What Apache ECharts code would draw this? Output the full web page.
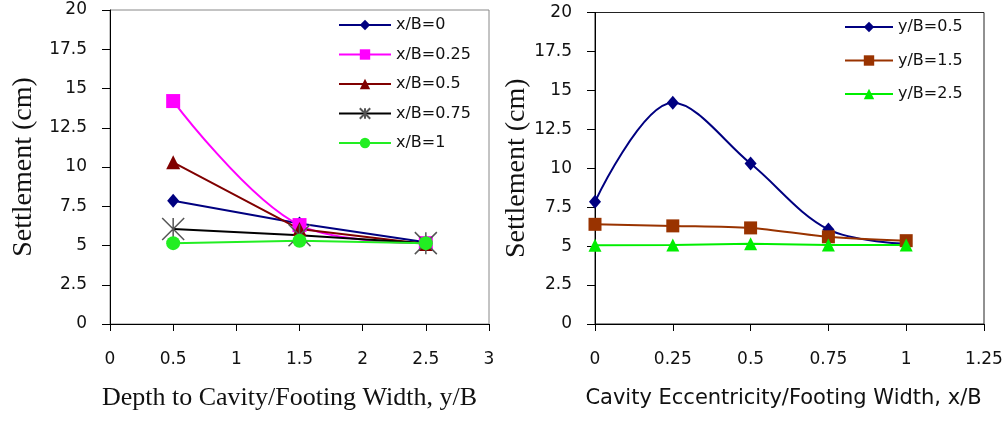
<!DOCTYPE html>
<html>
<head>
<meta charset="utf-8">
<script src="https://cdn.jsdelivr.net/npm/echarts@6/dist/echarts.min.js"></script>
<style>
html,body{margin:0;padding:0;background:#fff;}
#c{width:1006px;height:426px;}
</style>
</head>
<body>
<div id="c"></div>
<script>
// ---- Left chart data: settlement vs depth ratio y/B ----
const leftX = [0.5, 1.5, 2.5];
const leftNames = ['x/B=0', 'x/B=0.25', 'x/B=0.5', 'x/B=0.75', 'x/B=1'];
const leftXB0   = [7.85, 6.4, 5.2];
const leftXB025 = [14.2, 6.3, 5.15];
const leftXB05  = [10.3, 6.05, 5.1];
const leftXB075 = [6.05, 5.65, 5.15];
const leftXB1   = [5.15, 5.3, 5.15];

// ---- Right chart data: settlement vs eccentricity ratio x/B ----
const rightX = [0, 0.25, 0.5, 0.75, 1];
const rightNames = ['y/B=0.5', 'y/B=1.5', 'y/B=2.5'];
const rightYB05 = [7.85, 14.2, 10.3, 6.07, 5.15];
const rightYB15 = [6.4, 6.3, 6.17, 5.6, 5.35];
const rightYB25 = [5.05, 5.08, 5.15, 5.08, 5.08];

const pairs = (xs, ys) => xs.map((x, i) => [x, ys[i]]);

const tickFont = {fontFamily: 'DejaVu Sans', fontSize: 17, color: '#111'};
const asterisk = 'path://M0,0L20,20M20,0L0,20M10,0L10,20';

function yAxis(gridIndex, gap) {
  return {
    gridIndex, type: 'value', min: 0, max: 20, interval: 2.5,
    name: 'Settlement (cm)', nameLocation: 'middle', nameGap: gap,
    nameTextStyle: {fontFamily: 'Liberation Serif', fontSize: 28, color: '#111'},
    axisLine: {show: true, lineStyle: {color: '#000', width: 1}},
    axisTick: {show: true, length: 8, lineStyle: {color: '#000'}},
    axisLabel: Object.assign({margin: 23}, tickFont),
    splitLine: {show: false}
  };
}

function mk(name, xi, yi, xs, ys, color, symbol, size, extra) {
  return Object.assign({
    name, type: 'line', xAxisIndex: xi, yAxisIndex: yi,
    data: pairs(xs, ys), symbol, symbolSize: size,
    lineStyle: {color, width: 2},
    itemStyle: {color},
    emphasis: {disabled: true},
    z: 2
  }, extra || {});
}

const option = {
  animation: false,
  backgroundColor: '#fff',
  grid: [
    {left: 110, top: 10, right: 517, bottom: 102, show: true, borderColor: '#888', borderWidth: 1},
    {left: 595, top: 12.5, right: 22, bottom: 102, show: true, borderColor: '#222', borderWidth: 1}
  ],
  xAxis: [
    {
      gridIndex: 0, type: 'value', min: 0, max: 3, interval: 0.5,
      name: 'Depth to Cavity/Footing Width, y/B', nameLocation: 'middle', nameGap: 61,
      nameTextStyle: {fontFamily: 'Liberation Serif', fontSize: 26, color: '#111', padding: [0, 20, 0, 0]},
      axisLine: {show: true, lineStyle: {color: '#000', width: 1}},
      axisTick: {show: true, length: 7, lineStyle: {color: '#000'}},
      axisLabel: Object.assign({margin: 27}, tickFont),
      splitLine: {show: false}
    },
    {
      gridIndex: 1, type: 'value', min: 0, max: 1.25, interval: 0.25,
      name: 'Cavity Eccentricity/Footing Width, x/B', nameLocation: 'middle', nameGap: 64,
      nameTextStyle: {fontFamily: 'DejaVu Sans', fontSize: 21, color: '#111', padding: [0, 12, 0, 0]},
      axisLine: {show: true, lineStyle: {color: '#000', width: 1}},
      axisTick: {show: true, length: 7, lineStyle: {color: '#000'}},
      axisLabel: Object.assign({margin: 27}, tickFont),
      splitLine: {show: false}
    }
  ],
  yAxis: [yAxis(0, 72), yAxis(1, 64)],
  legend: [
    {
      data: leftNames, orient: 'vertical', left: 338, top: 17, padding: 0,
      itemWidth: 52, itemHeight: 13, itemGap: 13.5,
      textStyle: {fontFamily: 'DejaVu Sans', fontSize: 16, color: '#111', lineHeight: 13},
      selectedMode: false
    },
    {
      data: rightNames, orient: 'vertical', left: 844, top: 19, padding: 0,
      itemWidth: 48, itemHeight: 13, itemGap: 17.5,
      textStyle: {fontFamily: 'DejaVu Sans', fontSize: 16, color: '#111', lineHeight: 13},
      selectedMode: false
    }
  ],
  series: [
    mk('x/B=0', 0, 0, leftX, leftXB0, '#000080', 'diamond', [12, 14]),
    mk('x/B=0.25', 0, 0, leftX, leftXB025, '#FF00FF', 'rect', 14, {smooth: 0.35}),
    mk('x/B=0.5', 0, 0, leftX, leftXB05, '#800000', 'triangle', 14),
    mk('x/B=0.75', 0, 0, leftX, leftXB075, '#000', asterisk, 22, {
      lineStyle: {color: '#000', width: 2},
      itemStyle: {color: '#555', borderColor: '#555', borderWidth: 1.5}
    }),
    mk('x/B=1', 0, 0, leftX, leftXB1, '#22EE22', 'circle', 14),
    mk('y/B=0.5', 1, 1, rightX, rightYB05, '#000080', 'diamond', [12, 14], {smooth: 0.35}),
    mk('y/B=1.5', 1, 1, rightX, rightYB15, '#993300', 'rect', 13, {smooth: 0.3}),
    mk('y/B=2.5', 1, 1, rightX, rightYB25, '#00EE00', 'triangle', 13)
  ]
};

const chart = echarts.init(document.getElementById('c'), null, {renderer: 'canvas'});
chart.setOption(option);
</script>
</body>
</html>
